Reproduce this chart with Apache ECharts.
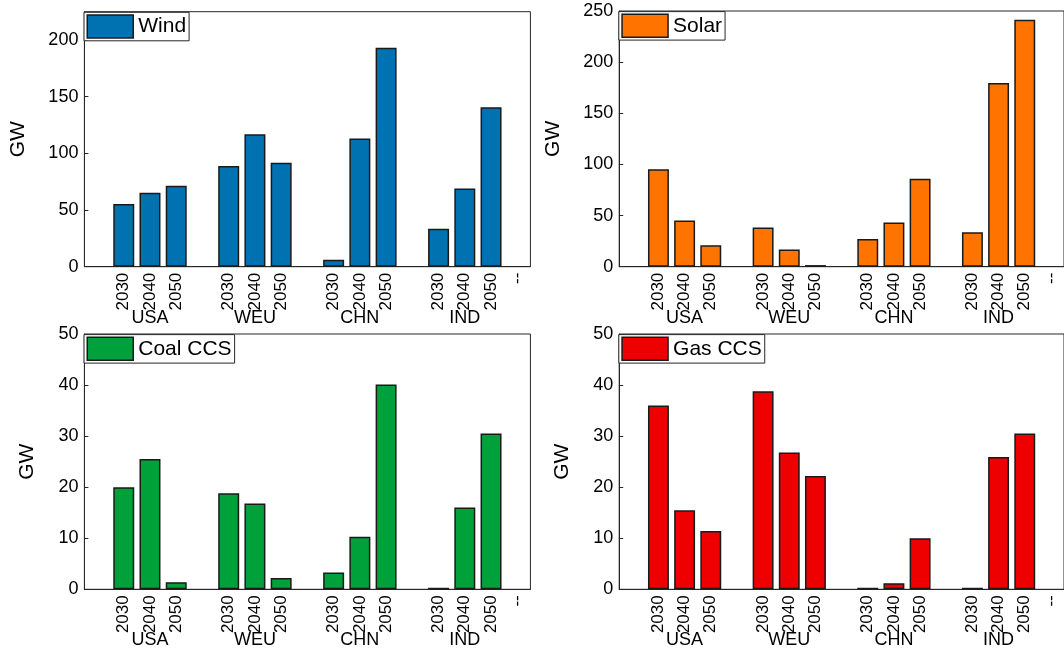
<!DOCTYPE html>
<html>
<head>
<meta charset="utf-8">
<script src="https://cdn.jsdelivr.net/npm/echarts@6/dist/echarts.min.js"></script>
<style>
html,body{margin:0;padding:0;background:#fff;}
#c{width:1064px;height:652px;}
</style>
</head>
<body>
<div id="c"></div>
<script>
// ---- data ----
const years = ['2030', '2040', '2050'];
const regions = ['USA', 'WEU', 'CHN', 'IND'];
const endLabel = '--';
// values in GW, ordered USA(2030,2040,2050), WEU(...), CHN(...), IND(...)
const wind    = [55.3, 65.3, 71.5,  88.8, 116.8, 91.8,  6.2, 113.2, 193.2,  33.5, 69.1, 140.6];
const solar   = [95.2, 45.2, 20.9,  38.3, 16.7, 1.6,  27.2, 43.2, 86.1,  33.7, 179.6, 241.5];
const coalCCS = [20.0, 25.5, 1.4,  18.8, 16.8, 2.2,  3.3, 10.3, 40.1,  0.3, 16.0, 30.5];
const gasCCS  = [36.0, 15.5, 11.4,  38.8, 26.8, 22.2,  0.3, 1.2, 10.0,  0.3, 25.9, 30.5];
const yMax = [225, 250, 50, 50];
const yStep = [50, 50, 10, 10];
const seriesNames = ['Wind', 'Solar', 'Coal CCS', 'Gas CCS'];
const seriesColors = ['#0072B2', '#FF7300', '#00A03A', '#EE0000'];

// ---- build slot layout: blank, 3 years, blank, 3 years, ..., end label ----
const yearSlots = [''];
const regionSlots = [''];
regions.forEach((r, i) => {
  years.forEach((y, j) => { yearSlots.push(y); regionSlots.push(j === 1 ? r : ''); });
  if (i < regions.length - 1) { yearSlots.push(''); regionSlots.push(''); }
});
yearSlots.push(endLabel); regionSlots.push('');
function toSlots(vals) {
  const out = [null];
  regions.forEach((r, i) => {
    for (let j = 0; j < years.length; j++) out.push(vals[i * years.length + j]);
    if (i < regions.length - 1) out.push(null);
  });
  out.push(null);
  return out;
}
const allVals = [wind, solar, coalCCS, gasCCS];

const FONT = '"Liberation Sans", Arial, sans-serif';
const INK = '#262626';
const grids = [
  {left: 84.4, top: 11.7, width: 446, height: 255},
  {left: 619.2, top: 11, width: 446, height: 255.7},
  {left: 84.4, top: 334, width: 446, height: 255.3},
  {left: 619.2, top: 334, width: 446, height: 255.3}
];
const nameGaps = [56, 55, 46.5, 46];

const option = {
  animation: false,
  backgroundColor: '#fff',
  textStyle: {fontFamily: FONT},
  grid: grids.map(g => Object.assign({show: true, borderColor: INK, borderWidth: 1, backgroundColor: 'transparent'}, g)),
  legend: grids.map((g, i) => ({
    left: g.left - 0.4,
    top: g.top + 0.6,
    data: [seriesNames[i]],
    icon: 'rect',
    itemWidth: 46,
    itemHeight: 23,
    padding: [2, 3, 2, 2.5],
    borderColor: INK,
    borderWidth: 1,
    borderRadius: 0,
    backgroundColor: '#fff',
    selectedMode: false,
    itemStyle: {borderColor: '#1a1a1a', borderWidth: 1.5},
    textStyle: {fontSize: 21, color: '#000', fontFamily: FONT, lineHeight: 23}
  })),
  xAxis: [],
  yAxis: [],
  series: []
};

grids.forEach((g, i) => {
  option.xAxis.push({
    type: 'category', gridIndex: i, data: yearSlots, position: 'bottom',
    axisLine: {show: true, lineStyle: {color: INK, width: 1}},
    axisTick: {show: false},
    axisLabel: {rotate: 90, interval: 0, margin: 6, fontSize: 17, color: '#000', fontFamily: FONT},
    splitLine: {show: false}
  });
  option.xAxis.push({
    type: 'category', gridIndex: i, data: regionSlots, position: 'bottom', offset: 34,
    axisLine: {show: false}, axisTick: {show: false},
    axisLabel: {interval: 0, margin: 8, fontSize: 18, color: '#000', fontFamily: FONT},
    splitLine: {show: false}
  });
  option.yAxis.push({
    type: 'value', gridIndex: i, min: 0, max: yMax[i], interval: yStep[i],
    name: 'GW', nameLocation: 'middle', nameGap: nameGaps[i],
    nameTextStyle: {fontSize: 21, color: '#000', fontFamily: FONT},
    axisLine: {show: true, lineStyle: {color: INK, width: 1}},
    axisTick: {show: true, inside: true, length: 4, lineStyle: {color: INK}},
    axisLabel: {margin: 6, fontSize: 18, color: '#000', fontFamily: FONT, showMaxLabel: yMax[i] % yStep[i] === 0},
    splitLine: {show: false}
  });
  option.series.push({
    type: 'bar', name: seriesNames[i], xAxisIndex: i * 2, yAxisIndex: i,
    data: toSlots(allVals[i]), barWidth: '80%',
    itemStyle: {color: seriesColors[i], borderColor: '#1a1a1a', borderWidth: 1.5},
    emphasis: {disabled: true}
  });
});

const chart = echarts.init(document.getElementById('c'), null, {renderer: 'canvas'});
chart.setOption(option);
</script>
</body>
</html>
